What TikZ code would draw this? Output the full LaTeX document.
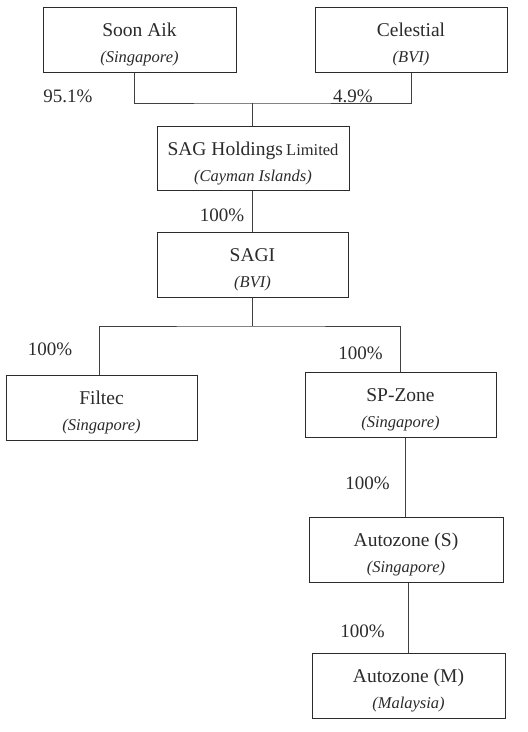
\documentclass[tikz,border=0pt]{standalone}
\usepackage{fontspec}
\setmainfont{Liberation Serif}
\usepackage{xcolor}
\usepackage{tikz}
\usetikzlibrary{positioning, calc}
\definecolor{ink}{HTML}{2B2B2B}
\definecolor{wire}{HTML}{404040}
\newcommand{\mainsize}{\fontsize{19.5}{26}\selectfont}
\newcommand{\subsize}{\fontsize{16.5}{26}\selectfont}
\newcommand{\firm}[2]{\rule{0pt}{24pt}#1\\{\subsize\itshape #2}}
\tikzset{
  entity/.style = {rectangle, draw=ink, line width=1pt, fill=white,
                   minimum width=192pt, minimum height=65pt, inner sep=2pt,
                   align=center, font=\mainsize, text=ink},
  share/.style  = {font=\fontsize{19}{22}\selectfont, text=ink, inner sep=0pt},
  link/.style   = {draw=wire, line width=1pt},
}

\begin{document}
\begin{tikzpicture}[x=1pt, y=1pt]
  \useasboundingbox (0,0) rectangle (528,-732);

  % shareholders
  \node[entity, minimum width=193pt] (soonaik) at (139.5,-39.5) {\firm{Soon Aik}{(Singapore)}};
  \node[entity] (celestial) at (411,-39.5) {\firm{Celestial}{(BVI)}};

  % holding chain
  \node[entity, minimum height=64pt] (sag) at (253,-158) {\firm{SAG Holdings\,{\subsize Limited}}{(Cayman Islands)}};
  \node[entity, minimum width=191pt] (sagi) at (252.5,-264.5) {\firm{SAGI}{(BVI)}};

  % subsidiaries
  \node[entity, minimum width=191pt] (filtec) at (101.5,-407.5) {\firm{Filtec}{(Singapore)}};
  \node[entity, minimum width=191pt] (spzone) at (400.5,-404.5) {\firm{SP-Zone}{(Singapore)}};
  \node[entity, minimum width=194pt] (autos) at (406,-549.5) {\firm{Autozone (S)}{(Singapore)}};
  \node[entity, minimum width=193pt] (autom) at (408.5,-685.5) {\firm{Autozone (M)}{(Malaysia)}};

  \coordinate (top) at (252,-103);
  \coordinate (mid) at (252,-326);

  \draw[link] ([xshift=-5.5pt]soonaik.south) |- (top) -| (celestial.south);
  \draw[link] (top) -- (top |- sag.north);
  \draw[link] (sag.south -| top) -- (sagi.north -| top);
  \draw[link] (sagi.south -| mid) -- (mid);
  \draw[link] ([xshift=-2.5pt]filtec.north) |- (mid) -| (spzone.north);
  \draw[link, line width=0.7pt] ([xshift=-1pt]autos.north) -- ([xshift=-1pt]autos.north |- spzone.south);
  \draw[link, line width=0.7pt] ([xshift=-0.5pt]autom.north) -- ([xshift=-0.5pt]autom.north |- autos.south);

  % percentages
  \node[share] (p1) at (68,-96) {95.1\%};
  \node[share] (p2) at (353,-96) {4.9\%};
  \node[share] (p3) at (222,-215) {100\%};
  \node[share] (p4) at (50,-349) {100\%};
  \node[share] (p5) at (360.5,-353) {100\%};
  \node[share] (p6) at (367.5,-483) {100\%};
  \node[share] (p7) at (362.5,-631) {100\%};
\end{tikzpicture}
\end{document}
